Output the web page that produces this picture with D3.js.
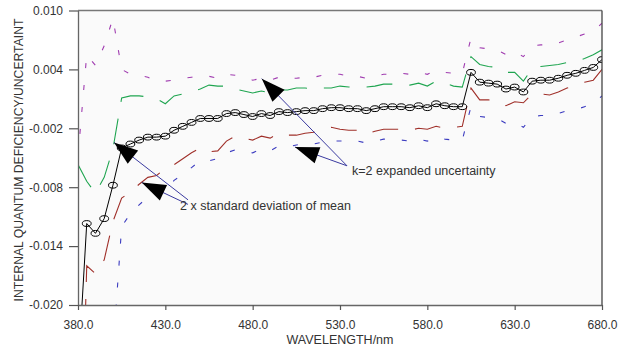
<!DOCTYPE html>
<html><head><meta charset="utf-8">
<script src="https://cdn.jsdelivr.net/npm/d3@7"></script>
<style>
body{margin:0;background:#fff;}
svg{display:block;font-family:"Liberation Sans",Arial,Helvetica,sans-serif;}
</style>
</head><body>
<svg id="chart" width="626" height="351"></svg>
<script>
// ---------- DATA ----------
const wavelengths = [
  380,385,390,395,400,405,410,415,420,425,
  430,435,440,445,450,455,460,465,470,475,
  480,485,490,495,500,505,510,515,520,525,
  530,535,540,545,550,555,560,565,570,575,
  580,585,590,595,600,605,610,615,620,625,
  630,635,640,645,650,655,660,665,670,675,
  680];
// mean internal quantum deficiency
const meanDeficiency = [
  -0.0270,-0.0117,-0.0127,-0.0112,-0.0078,-0.0040,-0.0036,-0.0032,-0.0029,-0.0029,
  -0.0028,-0.0022,-0.0018,-0.0014,-0.0010,-0.0010,-0.0010,-0.0005,-0.0004,-0.0006,
  -0.0008,-0.0005,-0.0007,-0.0003,-0.0004,-0.0003,-0.0002,-0.0002,0.0000,0.0001,
  0.0001,0.0000,0.0000,-0.0002,0.0000,0.0002,0.0002,0.0002,0.0001,0.0003,
  0.0001,0.0005,0.0003,0.0002,0.0002,0.0037,0.0027,0.0026,0.0025,0.0020,
  0.0022,0.0017,0.0028,0.0029,0.0029,0.0031,0.0034,0.0036,0.0039,0.0042,
  0.0050];
// 2 x standard deviation of mean (half-width)
const twoSdOfMean = [
  0.0213,0.0043,0.0041,0.0042,0.0037,0.0051,0.0049,0.0045,0.0041,0.0039,
  0.0033,0.0035,0.0033,0.0031,0.0030,0.0034,0.0033,0.0028,0.0024,0.0024,
  0.0024,0.0023,0.0023,0.0022,0.0023,0.0024,0.0023,0.0022,0.0021,0.0020,
  0.0022,0.0022,0.0022,0.0024,0.0023,0.0023,0.0023,0.0023,0.0023,0.0023,
  0.0022,0.0023,0.0023,0.0021,0.0020,0.0016,0.0018,0.0017,0.0017,0.0017,
  0.0015,0.0011,0.0013,0.0014,0.0015,0.0014,0.0013,0.0012,0.0012,0.0013,
  0.0010];
// k=2 expanded uncertainty (half-width)
const expandedUncertainty = [
  0.0222,0.0172,0.0171,0.0176,0.0170,0.0080,0.0071,0.0066,0.0061,0.0057,
  0.0056,0.0051,0.0049,0.0046,0.0043,0.0043,0.0041,0.0040,0.0038,0.0038,
  0.0037,0.0036,0.0036,0.0035,0.0035,0.0034,0.0034,0.0034,0.0034,0.0034,
  0.0034,0.0033,0.0033,0.0033,0.0033,0.0033,0.0033,0.0034,0.0034,0.0034,
  0.0034,0.0034,0.0034,0.0034,0.0034,0.0035,0.0035,0.0035,0.0035,0.0035,
  0.0036,0.0036,0.0036,0.0036,0.0036,0.0036,0.0036,0.0037,0.0037,0.0037,
  0.0037];

const xTicks = [380,430,480,530,580,630,680];
const xTickLabels = ["380.0","430.0","480.0","530.0","580.0","630.0","680.0"];
const yTicks = [-0.020,-0.014,-0.008,-0.002,0.004,0.010];
const yTickLabels = ["-0.020","-0.014","-0.008","-0.002","0.004","0.010"];

// annotations (data coordinates)
const sdArrowTips = [[400.6,-0.00344],[416.5,-0.00752]];
const sdArrowEnds = [[443.0,-0.00929],[443.0,-0.00975]];
const sdLabel = {text:"2 x standard deviation of mean", at:[438.4,-0.01035]};
const kArrowTips = [[485.2,0.00306],[504.2,-0.00391]];
const kArrowEnds = [[534.0,-0.00582],[534.0,-0.00582]];
const kLabel = {text:"k=2 expanded uncertainty", at:[536.9,-0.0068]};

// ---------- CHART ----------
(function(){
const svg = d3.select("#chart");
const pL=78, pR=602, pT=10.5, pB=305;
const x = d3.scaleLinear().domain([380,680]).range([pL,pR]);
const y = d3.scaleLinear().domain([-0.020,0.010]).range([pB,pT]);

svg.append("rect").attr("x",pL).attr("y",pT).attr("width",pR-pL).attr("height",pB-pT)
  .attr("fill","#fafafa");

svg.append("defs").append("clipPath").attr("id","clip")
  .append("rect").attr("x",pL).attr("y",pT).attr("width",pR-pL).attr("height",pB-pT);

const rows = wavelengths.map((w,i)=>({w, m:meanDeficiency[i], s:twoSdOfMean[i], k:expandedUncertainty[i]}));
const plot = svg.append("g").attr("clip-path","url(#clip)");

function lineOf(acc){ return d3.line().x(d=>x(d.w)).y(d=>y(acc(d))); }

const bands = [
  {acc:d=>d.m+d.k, color:"#a03cb0", dash:"5,17"},
  {acc:d=>d.m-d.k, color:"#3c3cc0", dash:"5,17"},
  {acc:d=>d.m+d.s, color:"#1fa550", dash:"26,17"},
  {acc:d=>d.m-d.s, color:"#a0302a", dash:"26,17"}
];
bands.forEach(b=>{
  plot.append("path").datum(rows).attr("d",lineOf(b.acc))
    .attr("fill","none").attr("stroke",b.color).attr("stroke-width",1.1)
    .attr("stroke-dasharray",b.dash);
});

plot.append("path").datum(rows).attr("d",lineOf(d=>d.m))
  .attr("fill","none").attr("stroke","#000").attr("stroke-width",1);
plot.selectAll("ellipse.pt").data(rows).enter().append("ellipse")
  .attr("class","pt")
  .attr("cx",d=>x(d.w)).attr("cy",d=>y(d.m))
  .attr("rx",4.4).attr("ry",2.9)
  .attr("fill","none").attr("stroke","#000").attr("stroke-width",1);

// frame
svg.append("line").attr("x1",pL).attr("x2",pR).attr("y1",pT).attr("y2",pT)
  .attr("stroke","#777").attr("stroke-width",1.3);
svg.append("line").attr("x1",pR).attr("x2",pR).attr("y1",pT).attr("y2",pB)
  .attr("stroke","#444").attr("stroke-width",1.3);

// axes
const yAxis = d3.axisLeft(y).tickValues(yTicks).tickFormat((d,i)=>yTickLabels[i])
  .tickSize(9).tickPadding(6).tickSizeOuter(0);
const gy = svg.append("g").attr("transform",`translate(${pL},0)`).call(yAxis);
const xAxis = d3.axisBottom(x).tickValues(xTicks).tickFormat((d,i)=>xTickLabels[i])
  .tickSize(5).tickPadding(10).tickSizeOuter(0);
const gx = svg.append("g").attr("transform",`translate(0,${pB})`).call(xAxis);
[gx,gy].forEach(g=>{
  g.select(".domain").attr("stroke","#666").attr("stroke-width",1.3);
  g.selectAll(".tick line").attr("stroke","#555").attr("stroke-width",1.2);
  g.selectAll(".tick text").attr("fill","#333").style("font-size","12px")
   .style("font-family",'"Liberation Sans",Arial,sans-serif');
});

// titles
svg.append("text").attr("x",(pL+pR)/2).attr("y",344).attr("text-anchor","middle")
  .attr("fill","#333").style("font-size","12.5px").text("WAVELENGTH/nm");
svg.append("text").attr("transform","translate(23,160) rotate(-90)").attr("text-anchor","middle")
  .attr("fill","#333").style("font-size","12.2px").text("INTERNAL QUANTUM DEFICIENCY/UNCERTAINT");

// annotations
const ann = svg.append("g");
function arrow(tip, end){
  const tx=x(tip[0]), ty=y(tip[1]), ex=x(end[0]), ey=y(end[1]);
  ann.append("line").attr("x1",tx).attr("y1",ty).attr("x2",ex).attr("y2",ey)
    .attr("stroke","#3a3aa0").attr("stroke-width",1);
  const dx=ex-tx, dy=ey-ty, L=Math.hypot(dx,dy), ux=dx/L, uy=dy/L;
  const len=24, hw=8.5;
  const bx=tx+ux*len, by=ty+uy*len;
  ann.append("path")
    .attr("d",`M${tx},${ty}L${bx-uy*hw},${by+ux*hw}L${bx+uy*hw},${by-ux*hw}Z`)
    .attr("fill","#000");
}
sdArrowTips.forEach((t,i)=>arrow(t,sdArrowEnds[i]));
kArrowTips.forEach((t,i)=>arrow(t,kArrowEnds[i]));
[sdLabel,kLabel].forEach(l=>{
  ann.append("text").attr("x",x(l.at[0])).attr("y",y(l.at[1]))
    .attr("fill","#333").style("font-size","12.5px").text(l.text);
});
})();
</script>
</body></html>
